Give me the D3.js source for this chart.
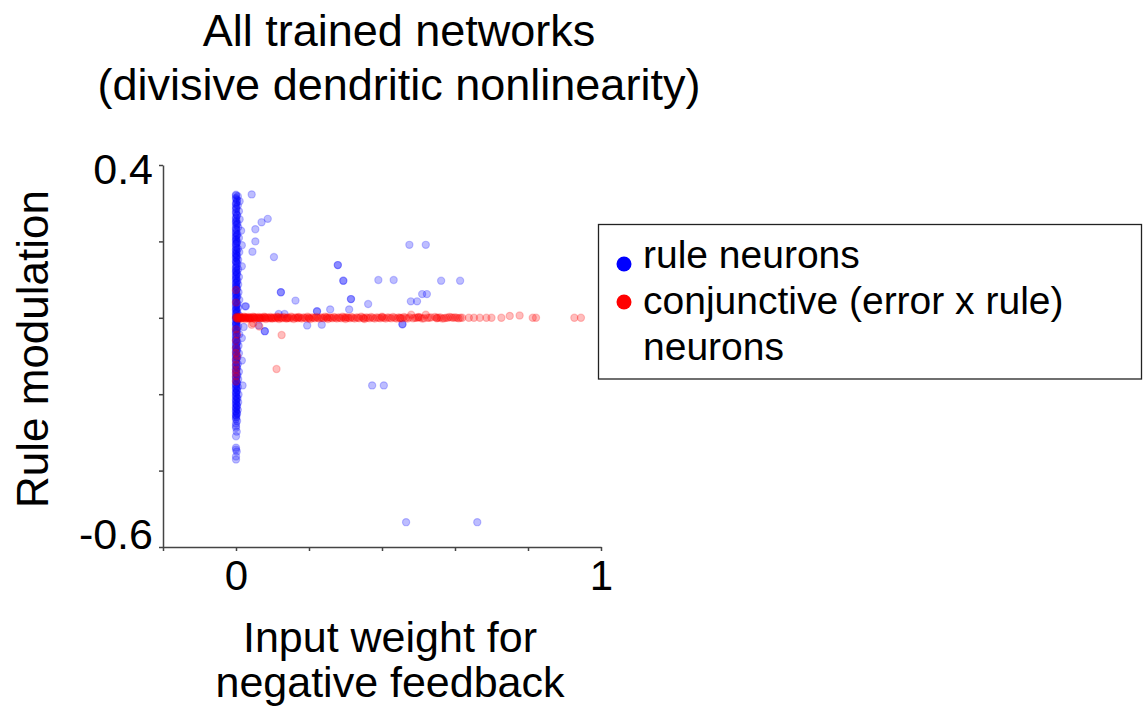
<!DOCTYPE html>
<html lang="en">
<head>
<meta charset="UTF-8">
<title>All trained networks</title>
<script src="https://d3js.org/d3.v7.min.js"></script>
<style>
  body { margin: 0; background: #fff; }
  svg { display: block; font-family: "Liberation Sans", Arial, sans-serif; }
  .axis path, .axis line { stroke: #444; stroke-width: 1.5; }
  .axis text { font-family: "Liberation Sans", Arial, sans-serif; fill: #000; }
</style>
</head>
<body>
<svg width="1143" height="716"></svg>
<script>
// axis ranges and ticks
const xDomain = [-0.2, 1];
const yDomain = [-0.6, 0.4];
const xTicks = [-0.2, 0, 0.2, 0.4, 0.6, 0.8, 1];
const yTicks = [0.4, 0.2, 0, -0.2, -0.4, -0.6];
const xTickLabels = { "0": "0", "1": "1" };
const yTickLabels = { "0.4": "0.4", "-0.6": "-0.6" };

const titleLines = ["All trained networks", "(divisive dendritic nonlinearity)"];
const xLabelLines = ["Input weight for", "negative feedback"];
const yLabel = "Rule modulation";
const legendLabels = ["rule neurons", "conjunctive (error x rule)", "neurons"];

// rule neurons [input weight, rule modulation]
const ruleNeurons = [
  // column at zero weight
  [0,0.322],[0.005,0.318],[0,0.314],[0.003,0.308],[0.01,0.305],[0,0.300],[0.005,0.294],[0,0.290],
  [0,0.284],[0.008,0.279],[0,0.274],[0.003,0.268],[0,0.263],[0.01,0.258],[0,0.252],[0.004,0.247],
  [0,0.242],[0.006,0.237],[0,0.232],[0.014,0.228],[0,0.224],[0.004,0.219],[0,0.214],[0.008,0.209],
  [0,0.204],[0.003,0.199],[0,0.194],[0.016,0.190],[0,0.186],[0.005,0.181],[0,0.176],[0.009,0.172],
  [0,0.167],[0.003,0.162],[0,0.157],[0.006,0.152],[0,0.147],[0.004,0.142],[0.016,0.135],[0,0.132],
  [0.006,0.127],[0,0.122],[0.003,0.117],[0,0.112],[0.008,0.107],[0,0.102],[0.004,0.097],[0,0.092],
  [0.006,0.087],[0,0.082],[0.003,0.077],[0,0.072],[0.007,0.067],[0,0.062],[0.004,0.057],[0,0.052],
  [0.009,0.047],[0,0.042],[0.004,0.037],[0,0.032],[0.025,0.030],[0.006,0.027],[0,0.022],[0.003,0.017],
  [0,0.012],[0.008,0.007],[0,0.003],[0,-0.003],[0.004,-0.008],[0,-0.013],[0.021,-0.024],[0,-0.018],
  [0.006,-0.023],[0,-0.028],[0.003,-0.033],[0,-0.038],[0.009,-0.043],[0,-0.048],[0.016,-0.053],[0,-0.058],
  [0.004,-0.063],[0,-0.068],[0.007,-0.073],[0,-0.078],[0.003,-0.083],[0,-0.088],[0.008,-0.093],[0,-0.098],
  [0.004,-0.103],[0,-0.108],[0.016,-0.112],[0,-0.116],[0.005,-0.121],[0,-0.126],[0.003,-0.131],[0,-0.136],
  [0.008,-0.141],[0,-0.146],[0.004,-0.151],[0,-0.156],[0.006,-0.161],[0,-0.166],[0.003,-0.171],[0.018,-0.177],
  [0,-0.176],[0.005,-0.181],[0,-0.186],[0.003,-0.191],[0,-0.196],[0.007,-0.201],[0,-0.206],[0.004,-0.211],
  [0,-0.216],[0.006,-0.221],[0,-0.226],[0.003,-0.231],[0,-0.236],[0.005,-0.241],[0,-0.246],[0.003,-0.251],
  [0,-0.256],[0,-0.262],[0.003,-0.270],[0,-0.277],[0,-0.288],[0.002,-0.298],[0,-0.310],[0,-0.340],
  [0.002,-0.350],[0,-0.363],[0,-0.371],
  [0,0.320],[0,0.311],[0.002,0.303],[0,0.297],[0.001,0.287],[0,0.277],[0.002,0.270],[0,0.260],
  [0.001,0.255],[0,0.249],[0.002,0.244],[0,0.235],[0.001,0.229],[0,0.221],[0.002,0.216],[0,0.211],
  [0.001,0.206],[0,0.201],[0.002,0.196],[0,0.191],[0.001,0.183],[0,0.178],[0.002,0.173],[0,0.169],
  [0.001,0.164],[0,0.159],[0.002,0.154],[0,0.149],[0.001,0.144],[0,0.139],[0.002,0.134],[0,0.129],
  [0.001,0.124],[0,0.119],[0.002,0.114],[0,0.109],[0.001,0.104],[0,0.099],[0.002,0.094],[0,0.089],
  [0.001,0.084],[0,0.079],[0.002,0.074],[0,0.069],[0.001,0.064],[0,0.059],[0.002,0.054],[0,0.049],
  [0.001,0.044],[0,0.039],[0.002,0.034],[0,0.029],[0.001,0.024],[0,0.019],[0.002,0.014],[0,0.009],
  [0.001,0.004],[0,-0.001],[0.002,-0.006],[0,-0.011],[0.001,-0.016],[0,-0.021],[0.002,-0.026],[0,-0.031],
  [0.001,-0.036],[0,-0.041],[0.002,-0.046],[0,-0.051],[0.001,-0.056],[0,-0.061],[0.002,-0.066],[0,-0.071],
  [0.001,-0.076],[0,-0.081],[0.002,-0.086],[0,-0.091],[0.001,-0.096],[0,-0.101],[0.002,-0.106],[0,-0.111],
  [0.001,-0.118],[0,-0.124],[0.002,-0.129],[0,-0.134],[0.001,-0.139],[0,-0.144],[0.002,-0.149],[0,-0.154],
  [0.001,-0.159],[0,-0.164],[0.002,-0.169],[0,-0.174],[0.001,-0.179],[0,-0.184],[0.002,-0.189],[0,-0.194],
  [0.001,-0.199],[0,-0.204],[0.002,-0.209],[0,-0.214],[0.001,-0.219],[0,-0.224],[0.002,-0.229],[0,-0.234],
  [0.001,-0.239],[0,-0.244],[0.002,-0.249],[0,-0.254],[0.001,-0.259],[0,-0.266],[0,-0.283],[0,-0.345],
  // scattered
  [0.043,0.323],[0.087,0.259],[0.070,0.250],[0.053,0.232],[0.053,0.200],[0.045,0.173],[0.104,0.159],
  [0.475,0.191],[0.520,0.191],[0.279,0.138],[0.294,0.097],[0.390,0.099],[0.432,0.099],[0.562,0.097],
  [0.614,0.097],[0.123,0.067],[0.315,0.049],[0.163,0.045],[0.362,0.036],[0.479,0.043],[0.496,0.043],
  [0.510,0.062],[0.523,0.062],[0.258,0.022],[0.310,0.022],[0.222,0.017],[0.027,0.030],[0.117,0.010],
  [0.133,0.010],[0.456,-0.017],[0.195,-0.020],[0.235,-0.018],[0.079,-0.035],[0.062,-0.020],
  [0.279,0.138],[0.294,0.097],[0.123,0.067],[0.315,0.049],[0.456,-0.017],[0.222,0.017],[0.079,-0.035],
  [0.373,-0.177],[0.405,-0.177],[0.466,-0.535],[0.661,-0.535]
];

// conjunctive neurons [input weight, rule modulation]
const conjNeurons = [
  // line at zero modulation
  [0,0],[0.003,0.003],[0.006,-0.003],[0.009,0],[0.012,0.002],[0.015,-0.002],[0.018,0],[0.022,0.003],
  [0.026,-0.003],[0.03,0],[0.034,0.002],[0.038,-0.002],[0.042,0],[0.047,0.003],[0.052,-0.003],[0.057,0],
  [0.062,0.002],[0.067,-0.002],[0.072,0],[0.077,0.003],[0.082,-0.003],[0.088,0],[0.094,0.002],[0.1,-0.002],
  [0.106,0],[0.112,0.003],[0.118,-0.003],[0.124,0],[0.13,0.002],[0.137,-0.002],[0.144,0],[0.151,0.003],
  [0.158,-0.003],[0.165,0],[0.172,0.002],[0.18,-0.002],[0.188,0],[0.196,0.003],[0.204,-0.003],[0.212,0],
  [0.22,0.002],[0.228,-0.002],[0.236,0],[0.244,0.003],[0.252,-0.003],[0.26,0],[0.268,0.002],[0.276,-0.002],
  [0.284,0],[0.292,0.003],[0.3,-0.003],[0.308,0],[0.316,0.002],[0.325,-0.002],[0.334,0],[0.343,0.003],
  [0.352,-0.003],[0.361,0],[0.37,0.002],[0.38,-0.002],[0.39,0],[0.4,0.003],[0.41,-0.002],[0.42,0],
  [0.43,0.002],[0.44,-0.002],[0.45,0],[0.46,0.002],[0.47,-0.002],[0.48,0.008],[0.49,0],[0.5,0.002],
  [0.51,-0.002],[0.52,0.008],[0.53,0],[0.545,0.002],[0.555,0],[0.565,-0.002],[0.575,0],[0.585,0.002],
  [0.595,0],[0.605,0],[0.615,0],[0.638,0],[0.652,0],[0.668,0],[0.686,0],[0.70,0],[0.727,0],[0.75,0.005],
  [0.777,0.006],[0.813,0],[0.822,0],[0.927,0],[0.945,0],
  [0.005,0.001],[0.014,-0.001],[0.024,0.001],[0.036,-0.001],[0.05,0.001],[0.065,-0.001],[0.08,0.001],
  [0.097,-0.001],[0.115,0.001],[0.14,-0.001],[0.17,0.001],[0.2,-0.001],[0.25,0.001],[0.3,0.001],
  [0.35,-0.001],[0.4,0.001],[0.45,-0.001],[0.5,0.001],[0.55,-0.001],[0.6,0.001],
  [0.001,0],[0.004,-0.001],[0.008,0.001],[0.011,0],[0.016,0.001],[0.02,-0.001],[0.025,0],[0.028,0.001],
  [0.032,-0.001],[0.036,0],[0.04,0.001],[0.045,-0.001],[0.049,0],[0.054,0.001],[0.059,-0.001],[0.064,0],
  [0.069,0.001],[0.074,-0.001],[0.079,0],[0.085,0.001],[0.091,-0.001],[0.097,0],[0.103,0.001],[0.109,-0.001],
  [0.115,0],[0.121,0.001],[0.127,-0.001],[0.134,0],[0.141,0.001],[0.148,-0.001],[0.155,0],[0.162,0.001],
  [0.169,-0.001],[0.176,0],[0.184,0.001],[0.192,-0.001],[0.2,0],[0.208,0.001],[0.216,-0.001],[0.224,0],
  [0.232,0.001],[0.24,-0.001],[0.248,0],[0.256,0.001],[0.264,-0.001],[0.272,0],[0.28,0.001],[0.288,-0.001],
  [0.296,0],[0.304,0.001],[0.312,-0.001],[0.32,0],[0.33,0.001],[0.338,-0.001],[0.348,0],[0.356,0.001],
  [0.366,-0.001],[0.375,0],[0.385,0.001],[0.395,-0.001],[0.405,0],[0.415,0.001],[0.425,-0.001],[0.435,0],
  [0.445,0.001],[0.455,-0.001],[0.465,0],[0.475,0.001],[0.485,-0.001],[0.495,0],[0.505,0.001],[0.515,-0.001],
  [0.525,0],[0.535,0.001],[0.55,0],[0.56,0.001],[0.57,-0.001],[0.58,0],[0.59,0.001],[0.61,-0.001],[0.62,0],
  // column at zero weight
  [0,0.073],[0.003,-0.044],[0,-0.079],[0,-0.092],[0,-0.110],[0,-0.123],[0,-0.136],[0,-0.144],
  [0,-0.153],[0,-0.167],[0.003,-0.100],[0,-0.060],[0,0.040],[0,-0.030],
  // scattered
  [0.125,-0.045],[0.111,-0.134],[0.047,-0.014],[0.043,-0.018],[0.064,-0.023]
];

const svg = d3.select("svg");

const x = d3.scaleLinear().domain(xDomain).range([163, 601]);
const y = d3.scaleLinear().domain(yDomain).range([547, 165]);

// axes
const xAxis = svg.append("g")
  .attr("class", "axis")
  .attr("transform", `translate(0,${y(yDomain[0])})`)
  .call(d3.axisBottom(x).tickValues(xTicks).tickSize(4).tickSizeOuter(0)
    .tickFormat(d => xTickLabels[String(d)] || ""));
xAxis.selectAll("text").attr("font-size", 42).attr("dy", null).attr("y", 43);

const yAxis = svg.append("g")
  .attr("class", "axis")
  .attr("transform", `translate(${x(xDomain[0])},0)`)
  .call(d3.axisLeft(y).tickValues(yTicks).tickSize(4).tickSizeOuter(0)
    .tickFormat(d => yTickLabels[String(d)] || ""));
yAxis.selectAll("text")
  .attr("font-size", 43)
  .attr("x", -10)
  .attr("dy", null)
  .attr("y", d => d > 0 ? 18 : 1);

// points
function drawPoints(data, color) {
  svg.append("g").selectAll("circle")
    .data(data)
    .join("circle")
    .attr("cx", d => x(d[0]))
    .attr("cy", d => y(d[1]))
    .attr("r", 3.6)
    .attr("fill", color)
    .attr("fill-opacity", 0.26)
    .attr("stroke", color)
    .attr("stroke-opacity", 0.22)
    .attr("stroke-width", 1.2);
}
drawPoints(ruleNeurons, "#0000ff");
drawPoints(conjNeurons, "#ff0000");

// title
svg.append("g").selectAll("text")
  .data(titleLines)
  .join("text")
  .attr("x", 399)
  .attr("y", (d, i) => 46 + i * 54)
  .attr("text-anchor", "middle")
  .attr("font-size", 45)
  .text(d => d);

// x label
svg.append("g").selectAll("text")
  .data(xLabelLines)
  .join("text")
  .attr("x", 390)
  .attr("y", (d, i) => 652 + i * 45)
  .attr("text-anchor", "middle")
  .attr("font-size", 43)
  .text(d => d);

// y label
svg.append("text")
  .attr("transform", "translate(48,349) rotate(-90)")
  .attr("text-anchor", "middle")
  .attr("font-size", 44)
  .text(yLabel);

// legend
const legend = svg.append("g");
legend.append("rect")
  .attr("x", 598.5).attr("y", 224.5)
  .attr("width", 543).attr("height", 154.5)
  .attr("fill", "#fff").attr("stroke", "#222").attr("stroke-width", 1.3);
legend.append("circle").attr("cx", 624).attr("cy", 264).attr("r", 7.5).attr("fill", "#0000ff");
legend.append("circle").attr("cx", 624).attr("cy", 302).attr("r", 7.5).attr("fill", "#ff0000");
legend.selectAll("text.lg")
  .data(legendLabels)
  .join("text")
  .attr("class", "lg")
  .attr("x", 643)
  .attr("y", (d, i) => 268 + i * 46)
  .attr("font-size", 39)
  .text(d => d);
</script>
</body>
</html>
